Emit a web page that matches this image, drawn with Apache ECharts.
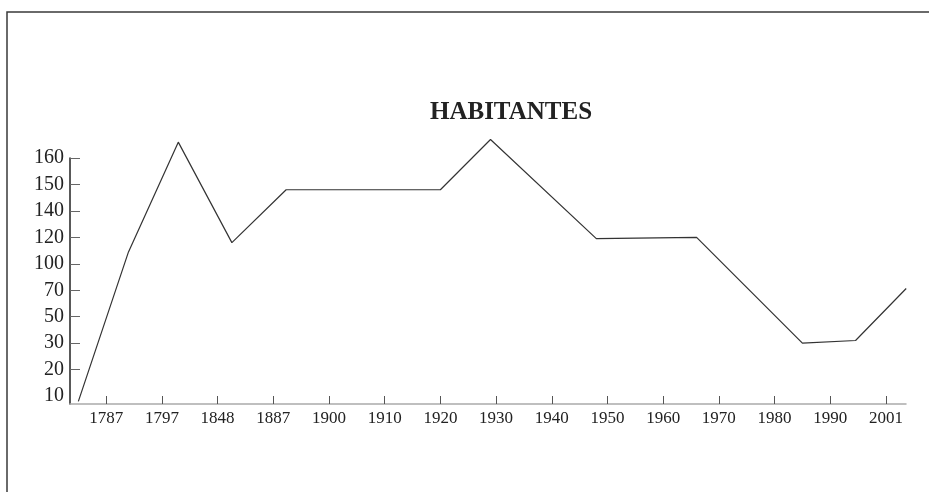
<!DOCTYPE html>
<html>
<head>
<meta charset="utf-8">
<script src="https://cdn.jsdelivr.net/npm/echarts@6/dist/echarts.min.js"></script>
<style>
html,body{margin:0;padding:0;background:#fff;}
#chart{width:929px;height:492px;}
</style>
</head>
<body>
<div id="chart"></div>
<script>
// Tick labels
const xLabels = ['1787','1797','1848','1887','1900','1910','1920','1930','1940','1950','1960','1970','1980','1990','2001'];
const yLabels = ['10','20','30','50','70','100','120','140','150','160'];
// Series: year and number of inhabitants
const years = [1782, 1791, 1812, 1858, 1890, 1920, 1929, 1948, 1966, 1985, 1995, 2005];
const habitants = [8, 109, 166, 116, 148, 148, 167, 119, 120, 30, 32, 72];

// Piecewise-linear scale: axis labels are evenly spaced in the figure
function toIndex(v, labels) {
  const n = labels.map(Number);
  let i = 0;
  if (v <= n[0]) i = 0;
  else if (v >= n[n.length - 1]) i = n.length - 2;
  else { while (!(v >= n[i] && v <= n[i + 1])) i++; }
  return i + (v - n[i]) / (n[i + 1] - n[i]);
}
const idxX = xLabels.map((_, i) => i);
const idxY = yLabels.map((_, i) => i);
const points = years.map((y, i) => [toIndex(y, xLabels), toIndex(habitants[i], yLabels)]);

const serif = '"Liberation Serif", "DejaVu Serif", serif';
const chart = echarts.init(document.getElementById('chart'));
chart.setOption({
  backgroundColor: '#fff',
  animation: false,
  title: {
    text: 'HABITANTES',
    left: 506,
    top: 95,
    textAlign: 'center',
    textStyle: { fontFamily: serif, fontWeight: 'bold', fontSize: 25, color: '#222' }
  },
  graphic: [{
    type: 'polyline',
    shape: { points: [[7, 492], [7, 12], [929, 12]] },
    style: { stroke: '#3a3a3a', lineWidth: 1.5, fill: null }
  }],
  grid: { left: 70, right: 23, top: 158, bottom: 88 },
  xAxis: {
    type: 'value',
    min: -0.65,
    max: 14.36,
    splitLine: { show: false },
    axisLine: { show: true, onZero: false, lineStyle: { color: '#aaaaaa', width: 1.5 } },
    axisTick: { show: true, inside: true, length: 8, customValues: idxX, lineStyle: { color: '#555', width: 1 } },
    axisLabel: {
      customValues: idxX,
      margin: 6,
      formatter: v => xLabels[Math.round(v)],
      fontFamily: serif, fontSize: 17, color: '#222'
    }
  },
  yAxis: {
    type: 'value',
    min: -0.3,
    max: 9,
    splitLine: { show: false },
    axisLine: { show: true, onZero: false, lineStyle: { color: '#222', width: 1.5 } },
    axisTick: { show: true, inside: true, length: 10, customValues: idxY.slice(1), lineStyle: { color: '#666', width: 1 } },
    axisLabel: {
      customValues: idxY,
      margin: 6,
      formatter: v => yLabels[Math.round(v)],
      fontFamily: serif, fontSize: 20, color: '#222'
    }
  },
  series: [{
    type: 'line',
    data: points,
    clip: false,
    symbol: 'none',
    lineStyle: { color: '#333', width: 1.2 }
  }]
});
</script>
</body>
</html>
